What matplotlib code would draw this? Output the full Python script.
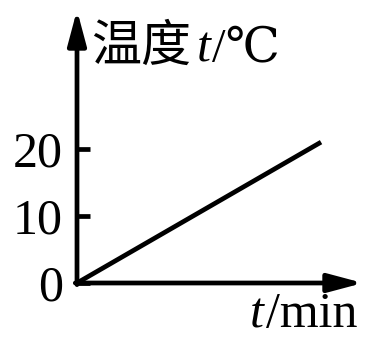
import matplotlib.pyplot as plt

# heating curve: temperature vs time
time_min = [0, 10]
temp_c = [0, 21]
yticks = [0, 10, 20]

serif = ['Liberation Serif', 'DejaVu Serif', 'Noto Sans CJK SC']
cjk = ['Noto Sans CJK SC', 'Liberation Serif']

W, H = 366, 339
fig = plt.figure(figsize=(W / 100, H / 100), dpi=100)

# origin at (77, 283) px, arrow tips at x=363 and y=10
x0, y0, x1, y1 = 77, 283, 363, 10
ax = fig.add_axes([x0 / W, (H - y0) / H, (x1 - x0) / W, (y0 - y1) / H])
ax.set_xlim(0, 11.72)
ax.set_ylim(0, 40.7)
for s in ax.spines.values():
    s.set_visible(False)

ax.plot(time_min, temp_c, color='black', lw=3.4, solid_capstyle='butt', clip_on=False)

arrow = dict(arrowstyle='-|>,head_length=1.05,head_width=0.28', color='black',
             lw=3.4, mutation_scale=20, shrinkA=0, shrinkB=0)
ax.annotate('', xy=(0, 1), xytext=(0, -0.006), xycoords='axes fraction', arrowprops=arrow)
ax.annotate('', xy=(1, 0), xytext=(-0.006, 0), xycoords='axes fraction', arrowprops=arrow)

ax.set_xticks([])
ax.set_yticks(yticks)
ax.set_yticklabels([str(v) for v in yticks], family=serif, fontsize=36)
ax.tick_params(axis='y', direction='in', length=9.5, width=3.4, pad=10)

# y-axis label: 温度t/℃
fig.text(91 / W, 1 - 61 / H, '温度', family=cjk, fontsize=36, va='baseline', ha='left')
fig.text(197 / W, 1 - 61 / H, 't', family=serif, style='italic', fontsize=36, va='baseline', ha='left')
fig.text(212 / W, 1 - 61 / H, '/℃', family=serif, fontsize=35, va='baseline', ha='left')

# x-axis label: t/min
fig.text(250 / W, 1 - 327 / H, 't', family=serif, style='italic', fontsize=36, va='baseline', ha='left')
fig.text(266 / W, 1 - 327 / H, '/min', family=serif, fontsize=36, va='baseline', ha='left')

fig.savefig('out.png', dpi=100)
